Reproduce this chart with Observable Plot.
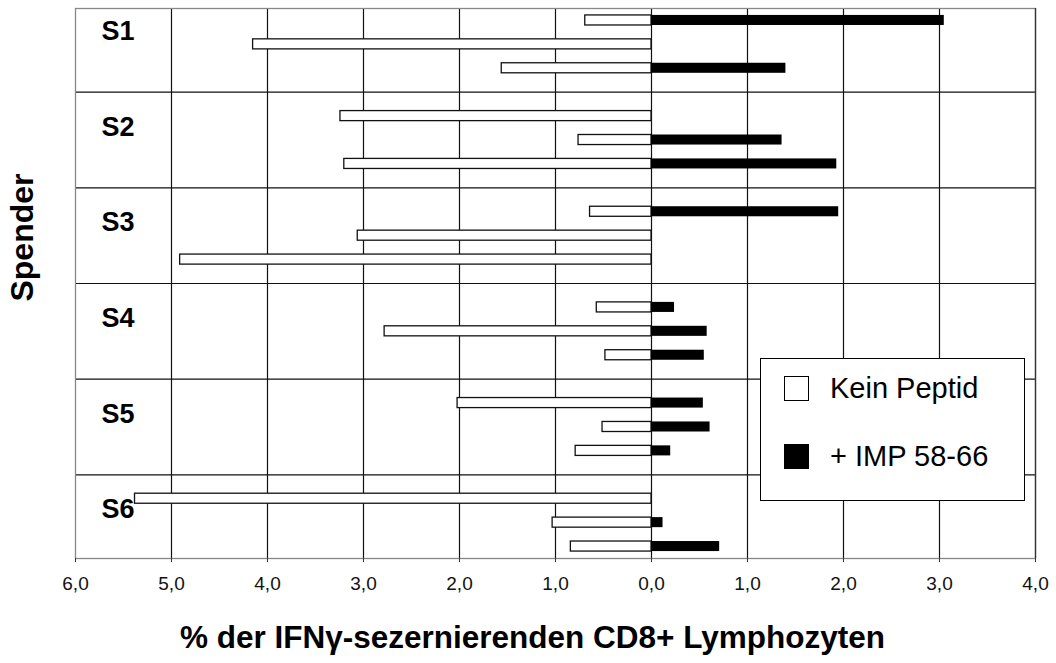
<!DOCTYPE html>
<html>
<head>
<meta charset="utf-8">
<script src="https://cdn.jsdelivr.net/npm/d3@7"></script>
<script src="https://cdn.jsdelivr.net/npm/@observablehq/plot@0.6"></script>
<style>
  html, body { margin: 0; padding: 0; background: #fff; }
  #wrap { position: relative; width: 1056px; height: 663px; font-family: Arial, "Liberation Sans", sans-serif; }
  #legend { position: absolute; left: 760px; top: 358px; width: 263px; height: 141px; border: 1.5px solid #000; background: #fff; }
  .item { position: absolute; left: 23px; display: flex; align-items: center; font-size: 29px; color: #000; }
  .sw { width: 23px; height: 23px; border: 1px solid #000; margin-right: 21px; }
</style>
</head>
<body>
<div id="wrap"></div>
<script>
// ---- data ----
const donors = ["S1", "S2", "S3", "S4", "S5", "S6"];
// three measurements per donor (in order top -> bottom)
const keinPeptid = [0.69, 4.15, 1.56, 3.24, 0.76, 3.20, 0.64, 3.06, 4.91, 0.57, 2.78, 0.48, 2.02, 0.51, 0.79, 5.38, 1.03, 0.84];
const imp5866 = [3.05, null, 1.40, null, 1.36, 1.93, 1.95, null, null, 0.24, 0.58, 0.55, 0.54, 0.61, 0.20, null, 0.12, 0.71];
const xTicks = [-6, -5, -4, -3, -2, -1, 0, 1, 2, 3, 4];
const seriesNames = ["Kein Peptid", "+ IMP 58-66"];
const xTitle = "% der IFNγ-sezernierenden CD8+ Lymphozyten";
const yTitle = "Spender";

// ---- table built from arrays ----
const perDonor = 3;
const slotsPerDonor = perDonor + 1; // one empty slot between donors
const rows = keinPeptid.map((k, i) => {
  const g = Math.floor(i / perDonor), m = i % perDonor;
  return {donor: donors[g], slot: g * slotsPerDonor + m, kein: k, imp: imp5866[i]};
});
const nSlots = donors.length * slotsPerDonor - 1;
const separators = donors.slice(0, -1).map((d, g) => g * slotsPerDonor + perDonor);
const labelRows = donors.map((d, g) => ({donor: d, slot: g * slotsPerDonor + 1}));
const fmt = d => Math.abs(d).toFixed(1).replace(".", ",");

const chart = Plot.plot({
  width: 1056,
  height: 663,
  marginLeft: 75,
  marginRight: 21,
  marginTop: 8,
  marginBottom: 105,
  style: {fontFamily: "Arial, 'Liberation Sans', sans-serif", background: "#fff", color: "#000"},
  x: {domain: [-6, 4], axis: null},
  y: {type: "band", domain: d3.range(nSlots), paddingInner: 0.58, paddingOuter: 0.29, round: false, axis: null},
  marks: [
    Plot.ruleX(xTicks.filter(t => t > -6 && t < 4), {stroke: "#111", strokeWidth: 1.2}),
    Plot.ruleY(separators, {stroke: "#111", strokeWidth: 1.2}),
    Plot.frame({stroke: "#888", strokeWidth: 1.3}),
    Plot.ruleX([4], {stroke: "#333", strokeWidth: 1.3}),
    Plot.barX(rows, {x1: 0, x2: d => -d.kein, y: "slot", fill: "#fff", stroke: "#111", strokeWidth: 1.3}),
    Plot.barX(rows.filter(d => d.imp != null), {x1: 0, x2: "imp", y: "slot", fill: "#000"}),
    Plot.text(labelRows, {y: "slot", text: "donor", frameAnchor: "left", dx: 26, dy: -13, textAnchor: "start",
      fontSize: 27, fontWeight: "bold", fill: "#000"}),
    Plot.axisX({ticks: xTicks, tickFormat: fmt, tickSize: 4, tickPadding: 14, fontSize: 19,
      stroke: "#333", fill: "#111", label: null}),
    Plot.text([xTitle], {frameAnchor: "bottom", textAnchor: "middle", dx: -23, dy: 89, fontSize: 31.5, fontWeight: "bold", fill: "#000"}),
    Plot.text([yTitle], {frameAnchor: "left", textAnchor: "middle", rotate: -90, dx: -53, dy: -46, fontSize: 32, fontWeight: "bold", fill: "#000"})
  ]
});

const wrap = document.getElementById("wrap");
wrap.appendChild(chart);

const legend = document.createElement("div");
legend.id = "legend";
const fills = ["#fff", "#000"];
const tops = [13, 81];
seriesNames.forEach((name, i) => {
  const it = document.createElement("div");
  it.className = "item";
  it.style.top = tops[i] + "px";
  const sw = document.createElement("div");
  sw.className = "sw";
  sw.style.background = fills[i];
  const tx = document.createElement("span");
  tx.textContent = name;
  it.appendChild(sw);
  it.appendChild(tx);
  legend.appendChild(it);
});
wrap.appendChild(legend);
</script>
</body>
</html>
